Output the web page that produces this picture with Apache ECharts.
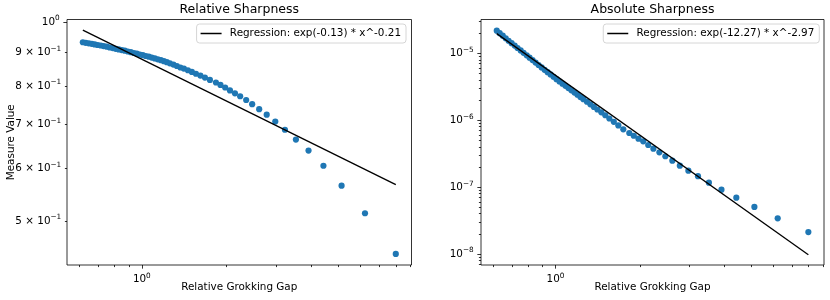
<!DOCTYPE html>
<html><head><meta charset="utf-8">
<script src="https://cdn.jsdelivr.net/npm/echarts@6/dist/echarts.min.js"></script>
<style>html,body{margin:0;padding:0;background:#fff}#c{width:830px;height:300px}</style>
</head><body><div id="c"></div>
<script>
// ---- data ----
const gap = [0.617, 0.632, 0.648, 0.664, 0.680, 0.697, 0.715, 0.732, 0.751, 0.769,
  0.789, 0.808, 0.828, 0.849, 0.870, 0.892, 0.914, 0.937, 0.960, 0.984,
  1.008, 1.033, 1.059, 1.085, 1.112, 1.140, 1.169, 1.198, 1.227, 1.258,
  1.295, 1.332, 1.371, 1.411, 1.458, 1.506, 1.557, 1.615, 1.676, 1.746,
  1.834, 1.903, 1.978, 2.057, 2.143, 2.236, 2.349, 2.467, 2.613, 2.779,
  2.981, 3.226, 3.529, 3.913, 4.421, 5.129, 6.212, 7.993];
const relSharp = [0.9318, 0.9301, 0.9285, 0.9266, 0.9249, 0.9230, 0.9214, 0.9195, 0.9176, 0.9150,
  0.9131, 0.9109, 0.9090, 0.9068, 0.9049, 0.9023, 0.9001, 0.8976, 0.8954, 0.8929,
  0.8908, 0.8883, 0.8861, 0.8834, 0.8809, 0.8781, 0.8754, 0.8723, 0.8693, 0.8660,
  0.8621, 0.8579, 0.8534, 0.8502, 0.8452, 0.8402, 0.8350, 0.8297, 0.8240, 0.8171,
  0.810, 0.803, 0.796, 0.788, 0.780, 0.772, 0.762, 0.751, 0.738, 0.724,
  0.707, 0.687, 0.664, 0.639, 0.606, 0.5655, 0.5136, 0.4457];
const absSharp = [2.179e-5, 1.998e-5, 1.831e-5, 1.679e-5, 1.540e-5, 1.417e-5, 1.303e-5, 1.199e-5, 1.104e-5, 1.015e-5,
  9.34e-6, 8.59e-6, 7.91e-6, 7.27e-6, 6.69e-6, 6.15e-6, 5.66e-6, 5.23e-6, 4.83e-6, 4.46e-6,
  4.11e-6, 3.80e-6, 3.52e-6, 3.26e-6, 3.02e-6, 2.80e-6, 2.59e-6, 2.40e-6, 2.22e-6, 2.06e-6,
  1.886e-6, 1.725e-6, 1.579e-6, 1.445e-6, 1.311e-6, 1.186e-6, 1.06e-6, 9.45e-7, 8.35e-7, 7.30e-7,
  6.44e-7, 5.86e-7, 5.29e-7, 4.84e-7, 4.26e-7, 3.75e-7, 3.31e-7, 2.89e-7, 2.48e-7, 2.09e-7,
  1.758e-7, 1.455e-7, 1.164e-7, 9.15e-8, 6.95e-8, 5.05e-8, 3.42e-8, 2.13e-8];
const relFitX = [0.617, 7.993];
const relFitY = [0.9718, 0.5675];
const absFitX = [0.617, 7.993];
const absFitY = [1.968e-5, 9.77e-9];

const relTitle = 'Relative Sharpness';
const absTitle = 'Absolute Sharpness';
const relFitName = 'Regression: exp(-0.13) * x^-0.21';
const absFitName = 'Regression: exp(-12.27) * x^-2.97';
const xName = 'Relative Grokking Gap';
const yName = 'Measure Value';

const xTickVals = [1];
const xTickLabels = ['10^0'];
const xMinorTicks = [0.6, 0.7, 0.8, 0.9, 2, 3, 4, 5, 6, 7, 8, 9];
const relYMajor = [1];
const relYMajorLabels = ['10^0'];
const relYMinor = [0.5, 0.6, 0.7, 0.8, 0.9];
const relYMinorLabels = ['5 × 10^−1', '6 × 10^−1', '7 × 10^−1', '8 × 10^−1', '9 × 10^−1'];
const absYMajor = [1e-8, 1e-7, 1e-6, 1e-5];
const absYMajorLabels = ['10^−8', '10^−7', '10^−6', '10^−5'];
const absYMinor = [7e-9, 8e-9, 9e-9, 2e-8, 3e-8, 4e-8, 5e-8, 6e-8, 7e-8, 8e-8, 9e-8,
  2e-7, 3e-7, 4e-7, 5e-7, 6e-7, 7e-7, 8e-7, 9e-7, 2e-6, 3e-6, 4e-6, 5e-6, 6e-6, 7e-6, 8e-6, 9e-6, 2e-5, 3e-5];

// ---- layout / style ----
const FONT = 'DejaVu Sans';
const FS = 10.4;
const X_MIN = 0.542, X_MAX = 9.09;
const REL_Y = [0.4289, 1.0087];
const ABS_Y = [6.85e-9, 3.2e-5];
const TICK_MAJ = 3.65, TICK_MIN = 2.1, PAD = 3.65;

const rich = {
  b: {fontFamily: FONT, fontSize: FS, color: '#000', lineHeight: 14},
  s: {fontFamily: FONT, fontSize: 7.3, color: '#000', lineHeight: 4, verticalAlign: 'top'}
};
function fmt(vals, labels) {
  return function (v) {
    let best = 0, bd = Infinity;
    vals.forEach((t, i) => { const d = Math.abs(Math.log(t) - Math.log(v)); if (d < bd) { bd = d; best = i; } });
    const parts = labels[best].split('^');
    return '{b|' + parts[0] + '}{s|' + parts[1] + '}';
  };
}
const tickLine = {color: '#000', width: 0.8};
const nameStyle = {fontFamily: FONT, fontSize: FS, color: '#000'};

function xAxes(gi) {
  return [
    {type: 'log', gridIndex: gi, min: X_MIN, max: X_MAX, position: 'bottom', offset: 0,
     axisLine: {show: false}, splitLine: {show: false}, minorTick: {show: false},
     axisTick: {show: true, customValues: xTickVals, length: TICK_MAJ, lineStyle: tickLine},
     axisLabel: {show: true, customValues: xTickVals, formatter: fmt(xTickVals, xTickLabels), margin: TICK_MAJ + PAD, rich: rich},
     name: xName, nameLocation: 'middle', nameGap: 17, nameTextStyle: nameStyle, nameMoveOverlap: false},
    {type: 'log', gridIndex: gi, min: X_MIN, max: X_MAX, position: 'bottom', offset: 0,
     axisLine: {show: false}, splitLine: {show: false}, minorTick: {show: false},
     axisTick: {show: true, customValues: xMinorTicks, length: TICK_MIN, lineStyle: tickLine},
     axisLabel: {show: false}}
  ];
}
function yAxes(gi, ext, maj, majLab, minr, minLab, withName) {
  const a = {type: 'log', gridIndex: gi, min: ext[0], max: ext[1], position: 'left', offset: 0,
     axisLine: {show: false}, splitLine: {show: false}, minorTick: {show: false},
     axisTick: {show: true, customValues: maj, length: TICK_MAJ, lineStyle: tickLine},
     axisLabel: {show: true, customValues: maj, formatter: fmt(maj, majLab), margin: TICK_MAJ + PAD, rich: rich}};
  if (withName) {
    Object.assign(a, {name: yName, nameLocation: 'middle', nameGap: 51, nameTextStyle: nameStyle, nameMoveOverlap: false});
  }
  const b = {type: 'log', gridIndex: gi, min: ext[0], max: ext[1], position: 'left', offset: 0,
     axisLine: {show: false}, splitLine: {show: false}, minorTick: {show: false},
     axisTick: {show: true, customValues: minr, length: TICK_MIN, lineStyle: tickLine},
     axisLabel: minLab ? {show: true, customValues: minr, formatter: fmt(minr, minLab), margin: TICK_MIN + PAD, rich: rich} : {show: false}};
  return [a, b];
}
function legend(name, right) {
  return {data: [name], right: right, top: 24, orient: 'horizontal', selectedMode: false,
    icon: 'rect', itemWidth: 21, itemHeight: 1.5, itemGap: 0,
    itemStyle: {color: '#000', borderWidth: 0},
    padding: [3.5, 5, 3.5, 4], backgroundColor: 'rgba(255,255,255,0.8)',
    borderColor: '#cccccc', borderWidth: 0.8, borderRadius: 3,
    textStyle: {fontFamily: FONT, fontSize: FS, color: '#000', lineHeight: 12, padding: [0, 0, 0, 3.3]}};
}
function scatter(xi, yi, ys) {
  return {type: 'scatter', xAxisIndex: xi, yAxisIndex: yi, symbol: 'circle', symbolSize: 6.2,
    itemStyle: {color: '#1f77b4', opacity: 1, borderWidth: 0}, z: 2, silent: true,
    data: gap.map((x, i) => [x, ys[i]])};
}
function fit(xi, yi, name, xs, ys) {
  return {type: 'line', name: name, xAxisIndex: xi, yAxisIndex: yi, symbol: 'none', color: '#000',
    lineStyle: {color: '#000', width: 1.3}, itemStyle: {color: '#000'}, z: 3, silent: true,
    data: xs.map((x, i) => [x, ys[i]])};
}

const chart = echarts.init(document.getElementById('c'), null, {renderer: 'canvas'});
chart.setOption({
  animation: false,
  backgroundColor: '#fff',
  title: [
    {text: relTitle, left: 239.25, top: 3, textAlign: 'center', padding: 0,
     textStyle: {fontFamily: FONT, fontSize: 12.5, fontWeight: 'normal', color: '#000'}},
    {text: absTitle, left: 652.5, top: 3, textAlign: 'center', padding: 0,
     textStyle: {fontFamily: FONT, fontSize: 12.5, fontWeight: 'normal', color: '#000'}}
  ],
  legend: [legend(relFitName, 424), legend(absFitName, 10.7)],
  grid: [
    {left: 67, right: 418.5, top: 19.5, bottom: 35, show: true, borderColor: '#000', borderWidth: 0.8, backgroundColor: 'transparent', containLabel: false, outerBoundsMode: 'none'},
    {left: 481, right: 6, top: 19.5, bottom: 35, show: true, borderColor: '#000', borderWidth: 0.8, backgroundColor: 'transparent', containLabel: false, outerBoundsMode: 'none'}
  ],
  xAxis: xAxes(0).concat(xAxes(1)),
  yAxis: yAxes(0, REL_Y, relYMajor, relYMajorLabels, relYMinor, relYMinorLabels, true)
    .concat(yAxes(1, ABS_Y, absYMajor, absYMajorLabels, absYMinor, null, false)),
  series: [
    scatter(0, 0, relSharp),
    fit(0, 0, relFitName, relFitX, relFitY),
    scatter(2, 2, absSharp),
    fit(2, 2, absFitName, absFitX, absFitY)
  ]
});
</script></body></html>
